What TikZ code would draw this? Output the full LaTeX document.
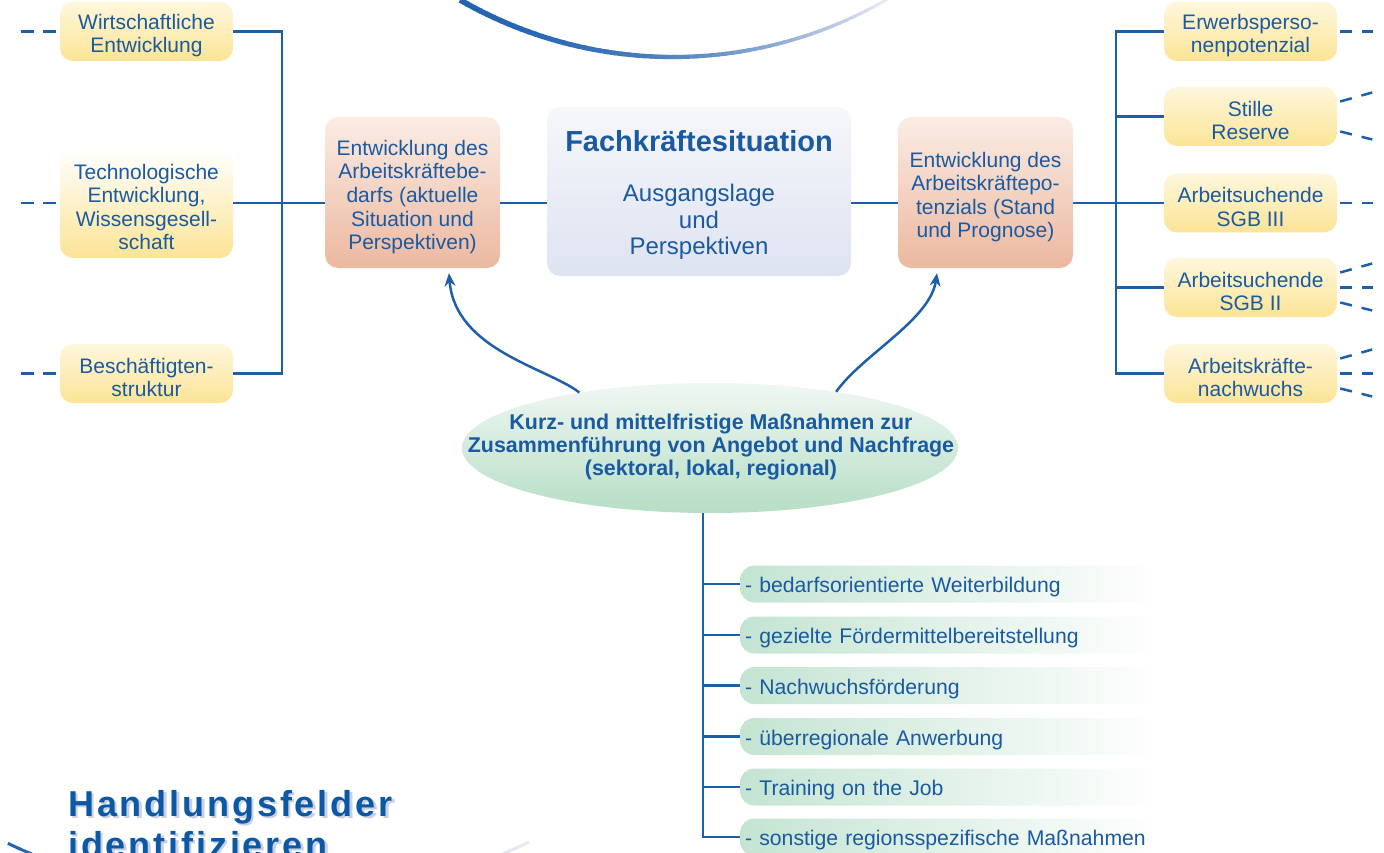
\documentclass[tikz,border=0pt]{standalone}
\usepackage{fontspec}
\setmainfont{Liberation Sans}
\newfontfamily\titlefont[LetterSpace=8]{Liberation Sans}
\usetikzlibrary{shapes.geometric,arrows.meta}
\definecolor{tblue}{RGB}{26,90,160}
\definecolor{lblue}{RGB}{30,95,170}
\definecolor{ttitle}{RGB}{12,88,165}
\definecolor{tshadow}{RGB}{200,208,228}
\definecolor{ytop}{RGB}{254,247,220}
\definecolor{ybot}{RGB}{252,228,150}
\definecolor{otop}{RGB}{251,236,228}
\definecolor{obot}{RGB}{236,184,160}
\definecolor{ctop}{RGB}{246,247,251}
\definecolor{cbot}{RGB}{222,227,241}
\definecolor{gtop}{RGB}{240,247,242}
\definecolor{gbot}{RGB}{182,222,198}
\definecolor{gbarc}{RGB}{196,228,210}
\definecolor{arcA}{RGB}{35,100,178}
\definecolor{arcB}{RGB}{232,234,242}
\newcommand\mystrutA{\rule{0pt}{23.5pt}}
\newcommand\mystrutB{\rule{0pt}{24.5pt}}
\newcommand\mystrutC{\rule{0pt}{21.5pt}}
\begin{document}
\begin{tikzpicture}[x=1pt,y=-1pt,
  conn/.style={draw=lblue, line width=2.5pt},
  dsh/.style={draw=lblue, line width=2.5pt, dash pattern=on 13pt off 9pt},
  dshr/.style={draw=lblue, line width=2.5pt, dash pattern=on 12pt off 10pt},
  txt/.style={text=tblue, font=\fontsize{21}{23.5}\selectfont, align=center, inner sep=0pt},
  ybox/.style={txt, rounded corners=13pt, top color=ytop, bottom color=ybot, minimum width=173pt, minimum height=59pt},
  obox/.style={txt, font=\fontsize{21}{23.6}\selectfont, rounded corners=13pt, top color=otop, bottom color=obot, minimum width=175pt, minimum height=151pt},
  cbox/.style={rounded corners=13pt, top color=ctop, bottom color=cbot, minimum width=304pt, minimum height=169pt, inner sep=0pt},
  ell/.style={ellipse, top color=gtop, bottom color=gbot, minimum width=496pt, minimum height=130pt, inner sep=0pt},
  gbar/.style={rounded corners=14pt, left color=gbarc, middle color=gbarc!60!white, right color=white, minimum height=37pt, text width=410pt, inner xsep=5pt, inner ysep=0pt, align=left, text=tblue, font=\fontsize{21.2}{23.5}\selectfont, anchor=west, execute at begin node=\mystrutC},
  ttl/.style={anchor=base west, inner sep=0pt, font=\titlefont\bfseries\fontsize{36}{40}\selectfont},
  arr/.style={conn, -{Stealth[length=13pt,width=11pt]}}
]
\useasboundingbox (0,0) rectangle (1384,853);
\clip (0,0) rectangle (1384,853);

% decorative arcs
\foreach \i in {0,...,59}{
  \pgfmathsetmacro\t{100-(\i/59)*(\i/59)*100}
  \pgfmathsetmacro\w{5.5-\i*2.5/59}
  \pgfmathsetmacro\a{120-\i}
  \draw[line width=\w pt, color=arcA!\t!arcB] (673,-369) ++(\a:426) arc[start angle=\a, end angle=\a-1.3, radius=426];
}
\foreach \i in {0,...,50}{
  \pgfmathsetmacro\t{100-\i*2}
  \pgfmathsetmacro\a{115.5-\i}
  \draw[line width=3pt, color=arcA!\t!arcB] (267,300) ++(\a:602) arc[start angle=\a, end angle=\a-1.3, radius=602];
}

% left boxes
\node[ybox] (wirt) at (146.5,31.5) {\mystrutA Wirtschaftliche\\Entwicklung};
\node[ybox, top color=white, minimum height=110pt] (tech) at (146.5,203) {\mystrutA Technologische\\Entwicklung,\\Wissensgesell-\\schaft};
\node[ybox] (besch) at (146.5,373.5) {\mystrutA Beschäftigten-\\struktur};

% right boxes
\node[ybox] (erw) at (1250.5,31.5) {\mystrutA Erwerbsperso-\\nenpotenzial};
\node[ybox] (still) at (1250.5,116.5) {\mystrutA Stille\\Reserve};
\node[ybox] (as3) at (1250.5,203) {\mystrutA Arbeitsuchende\\SGB III};
\node[ybox] (as2) at (1250.5,287.5) {\mystrutA Arbeitsuchende\\SGB II};
\node[ybox] (nach) at (1250.5,373.5) {\mystrutA Arbeitskräfte-\\nachwuchs};

% orange boxes
\node[obox] (lor) at (412.5,192.5) {\mystrutB Entwicklung des\\Arbeitskräftebe-\\darfs (aktuelle\\Situation und\\Perspektiven)};
\node[obox] (ror) at (985.5,192.5) {\mystrutB Entwicklung des\\Arbeitskräftepo-\\tenzials (Stand\\und Prognose)};

% central box
\node[cbox] (cen) at (699,191.5) {};
\node[txt, font=\bfseries\fontsize{29}{32}\selectfont] (fach) at (699,141) {Fachkräftesituation};
\node[txt, font=\fontsize{24}{26.5}\selectfont] (ausg) at (699,222) {Ausgangslage\\und\\Perspektiven};

% ellipse
\node[ell] (ell) at (710,448) {};
\node[txt, font=\bfseries\fontsize{21.4}{22.6}\selectfont] (elltxt) at (711,447) {Kurz- und mittelfristige Maßnahmen zur\\Zusammenführung von Angebot und Nachfrage\\(sektoral, lokal, regional)};

% bars
\node[gbar] (b1) at (740,584) {- bedarfsorientierte Weiterbildung};
\node[gbar] (b2) at (740,635) {- gezielte Fördermittelbereitstellung};
\node[gbar] (b3) at (740,685.5) {- Nachwuchsförderung};
\node[gbar] (b4) at (740,736.5) {- überregionale Anwerbung};
\node[gbar] (b5) at (740,787) {- Training on the Job};
\node[gbar] (b6) at (740,837) {- sonstige regionsspezifische Maßnahmen};

% title
\node[ttl, text=tshadow] (tsh1) at (70.5,818.5) {Handlungsfelder};
\node[ttl, text=tshadow] (tsh2) at (70.5,859.5) {identifizieren};
\node[ttl, text=ttitle] (t1) at (68,816) {Handlungsfelder};
\node[ttl, text=ttitle] (t2) at (68,857) {identifizieren};

% left connectors
\coordinate (lv) at (282,203);
\draw[conn] (wirt.east) -| (lv) |- (besch.east);
\draw[conn] (tech.east) -- (tech.east -| lor.west);
\draw[conn] (tech.east -| lor.east) -- (tech.east -| cen.west);
\draw[conn] (tech.east -| cen.east) -- (tech.east -| ror.west);
\draw[conn] (tech.east -| ror.east) -- (as3.west);
% right connectors
\coordinate (rv) at (1116,203);
\draw[conn] (erw.west) -| (rv) |- (nach.west);
\draw[conn] (rv |- still.west) -- (still.west);
\draw[conn] (rv |- as2.west) -- (as2.west);

% left dashes
\draw[dsh] ([xshift=-39pt]wirt.west) -- (wirt.west);
\draw[dsh] ([xshift=-39pt]tech.west) -- (tech.west);
\draw[dsh] ([xshift=-39pt]besch.west) -- (besch.west);
% right dashes
\draw[dshr] ([xshift=3pt]erw.east) -- ++(33,0);
\draw[dshr] ([xshift=3pt]as3.east) -- ++(33,0);
\draw[dshr] ([xshift=3pt]as2.east) -- ++(33,0);
\draw[dshr] ([xshift=3pt]nach.east) -- ++(33,0);
\foreach \b in {still,as2,nach}{
  \draw[dshr] ([shift={(3,-15)}]\b.east) -- ++(32,-9);
  \draw[dshr] ([shift={(3,15)}]\b.east) -- ++(32,8);
}

% arrows
\draw[arr] (ell.157.5) .. controls (548,368) and (455,350) .. ([xshift=36.5pt,yshift=-5pt]lor.south);
\draw[arr] (ell.24.9) .. controls (862,355) and (930,320) .. ([xshift=-48.5pt,yshift=-5pt]ror.south);

% bar connectors
\coordinate (gv) at (703,0);
\draw[conn] (ell.south -| gv) -- (b6.west -| gv) -- (b6.west);
\foreach \b in {b1,b2,b3,b4,b5}{
  \draw[conn] (\b.west -| gv) -- (\b.west);
}
\end{tikzpicture}
\end{document}
